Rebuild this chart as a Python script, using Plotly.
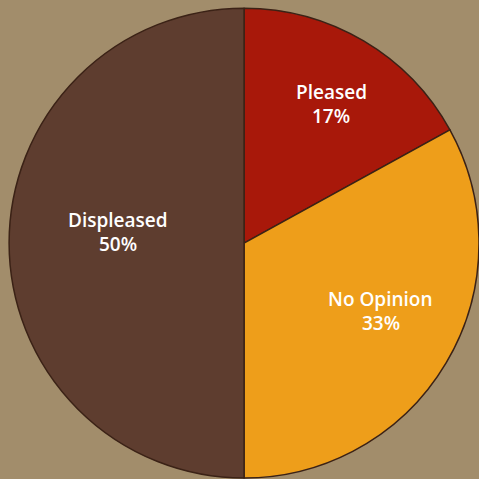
import math
import plotly.graph_objects as go

# Survey results
labels = ["Pleased", "No Opinion", "Displeased"]
values = [17, 33, 50]
colors = ["#A8180A", "#EE9E1A", "#5E3D2F"]

W = H = 479
DOMAIN_X = [0.019, 1.0]
DOMAIN_Y = [0.0, 0.985]

fig = go.Figure(
    go.Pie(
        labels=labels,
        values=values,
        sort=False,
        direction="clockwise",
        rotation=0,
        marker=dict(colors=colors, line=dict(color="#3B2216", width=1.5)),
        textinfo="none",
        showlegend=False,
        hoverinfo="skip",
        domain=dict(x=DOMAIN_X, y=DOMAIN_Y),
    )
)

# Pie geometry in pixels, used to place the slice labels
cx = (DOMAIN_X[0] + DOMAIN_X[1]) / 2 * W
cy = H - (DOMAIN_Y[0] + DOMAIN_Y[1]) / 2 * H
radius = min((DOMAIN_X[1] - DOMAIN_X[0]) * W, (DOMAIN_Y[1] - DOMAIN_Y[0]) * H) / 2

# label placement: radial fraction and small angular nudge per slice
label_r = [0.70, 0.65, 0.54]
label_nudge = [1.5, -4.0, 5.0]

total = sum(values)
start = 0.0
font = dict(family="Open Sans", size=19, color="white", weight=600)
for lab, val, rf, nd in zip(labels, values, label_r, label_nudge):
    sweep = val / total * 360.0
    mid = math.radians(start + sweep / 2 + nd)
    start += sweep
    px = cx + rf * radius * math.sin(mid)
    py = cy - rf * radius * math.cos(mid)
    xp, yp = px / W, 1 - py / H
    pct = f"{round(val / total * 100)}%"
    for txt, shift in ((lab, 12), (pct, -12)):
        fig.add_annotation(x=xp, y=yp, xref="paper", yref="paper", text=txt,
                           xanchor="center", yanchor="middle",
                           showarrow=False, font=font, yshift=shift)

fig.update_layout(
    width=W,
    height=H,
    margin=dict(l=0, r=0, t=0, b=0),
    paper_bgcolor="#A28D6B",
    plot_bgcolor="#A28D6B",
)

fig.write_html("out.html")
